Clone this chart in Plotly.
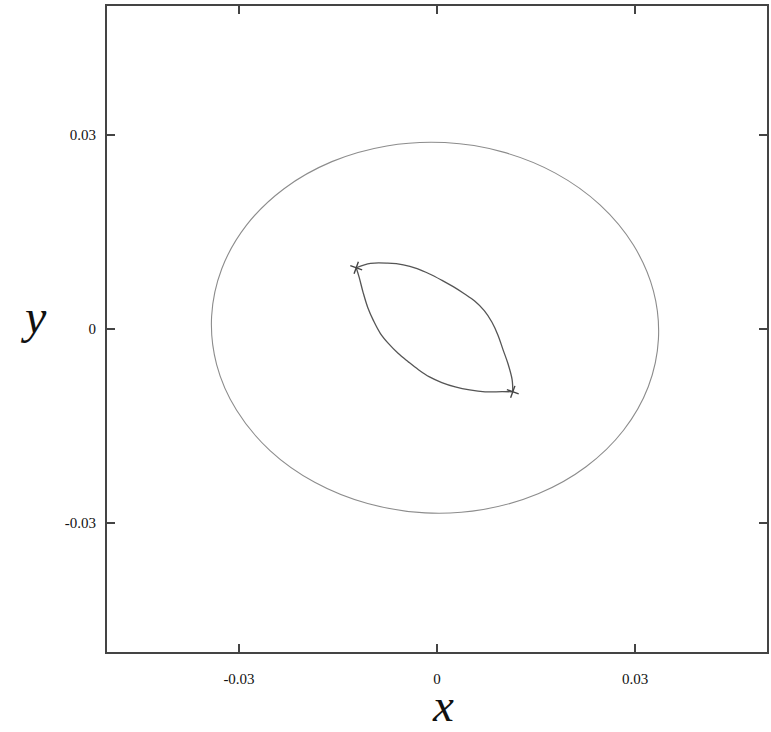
import plotly.graph_objects as go

# ---- data (units of 1e-3) ----
outer_x = [33.55, 32.79, 29.76, 24.70, 17.93, 9.91, 1.20, -7.61, -15.93, -23.18, -28.86, -32.61,
           -34.15, -33.39, -30.36, -25.30, -18.53, -10.51, -1.80, 7.01, 15.33, 22.58, 28.26, 32.01, 33.55]
outer_y = [-1.57, 5.90, 12.99, 19.21, 24.13, 27.42, 28.86, 28.34, 25.91, 21.72, 16.07, 9.33,
           1.97, -5.50, -12.59, -18.82, -23.73, -27.02, -28.46, -27.94, -25.51, -21.32, -15.67, -8.93, -1.57]

upper_x = [-12.24, -10.07, -7.47, -5.10, -3.01, -1.11, 0.70, 2.46, 4.14, 5.75, 7.16, 8.31, 9.24,
           10.00, 10.77, 11.38, 11.48]
upper_y = [9.48, 10.16, 10.19, 9.94, 9.34, 8.51, 7.56, 6.56, 5.46, 4.28, 2.84, 1.08, -0.96,
           -3.19, -5.42, -7.84, -9.72]

lower_x = [-12.24, -11.80, -11.18, -10.48, -9.59, -8.57, -7.30, -5.90, -4.37, -2.81, -1.14, 0.73,
           2.76, 4.94, 7.28, 9.87, 11.48]
lower_y = [9.48, 8.03, 5.60, 3.30, 1.22, -0.70, -2.31, -3.76, -5.06, -6.30, -7.42, -8.29,
           -8.96, -9.44, -9.73, -9.70, -9.72]

tips_x = [-12.24, 11.48]
tips_y = [9.48, -9.72]

tick_vals = [-0.03, 0, 0.03]
tick_text = ["-0.03", "0", "0.03"]
axis_range = [-0.05, 0.05]

S = 1e-3
sc = lambda v: [a * S for a in v]

fig = go.Figure()
fig.add_trace(go.Scatter(x=sc(outer_x), y=sc(outer_y), mode="lines",
                         line=dict(color="#8c8c8c", width=1.1, shape="spline", smoothing=1.0),
                         hoverinfo="skip", showlegend=False))
fig.add_trace(go.Scatter(x=sc(upper_x), y=sc(upper_y), mode="lines",
                         line=dict(color="#555555", width=1.3, shape="spline", smoothing=1.0),
                         hoverinfo="skip", showlegend=False))
fig.add_trace(go.Scatter(x=sc(lower_x), y=sc(lower_y), mode="lines",
                         line=dict(color="#555555", width=1.3, shape="spline", smoothing=1.0),
                         hoverinfo="skip", showlegend=False))
fig.add_trace(go.Scatter(x=sc(tips_x), y=sc(tips_y), mode="markers",
                         marker=dict(symbol="cross-thin", size=9, angle=20,
                                     line=dict(color="#444444", width=1.4)),
                         hoverinfo="skip", showlegend=False))

serif = "Liberation Serif, Times New Roman, serif"
axis_common = dict(range=axis_range, tickvals=tick_vals, ticktext=tick_text,
                   ticks="inside", ticklen=8, tickwidth=1.5, tickcolor="#444444",
                   showline=True, linewidth=2, linecolor="#444444", mirror="ticks",
                   showgrid=False, zeroline=False,
                   tickfont=dict(family=serif, size=15, color="#111111"))

fig.update_xaxes(**axis_common, ticklabelstandoff=12)
fig.update_yaxes(**axis_common, ticklabelstandoff=6)

fig.add_annotation(text="x", xref="paper", yref="paper", x=0.509, y=-0.082,
                   xanchor="center", yanchor="middle", showarrow=False,
                   font=dict(family=serif, size=47, color="#111111", style="italic"))
fig.add_annotation(text="y", xref="paper", yref="paper", x=-0.112, y=0.52,
                   xanchor="center", yanchor="middle", showarrow=False,
                   font=dict(family=serif, size=48, color="#111111", style="italic"))

fig.update_layout(width=771, height=732, margin=dict(l=107, r=2, t=6, b=80),
                  plot_bgcolor="white", paper_bgcolor="white")

fig.write_html("out.html", config={"displayModeBar": False},
               post_script="document.body.style.margin='0';")
